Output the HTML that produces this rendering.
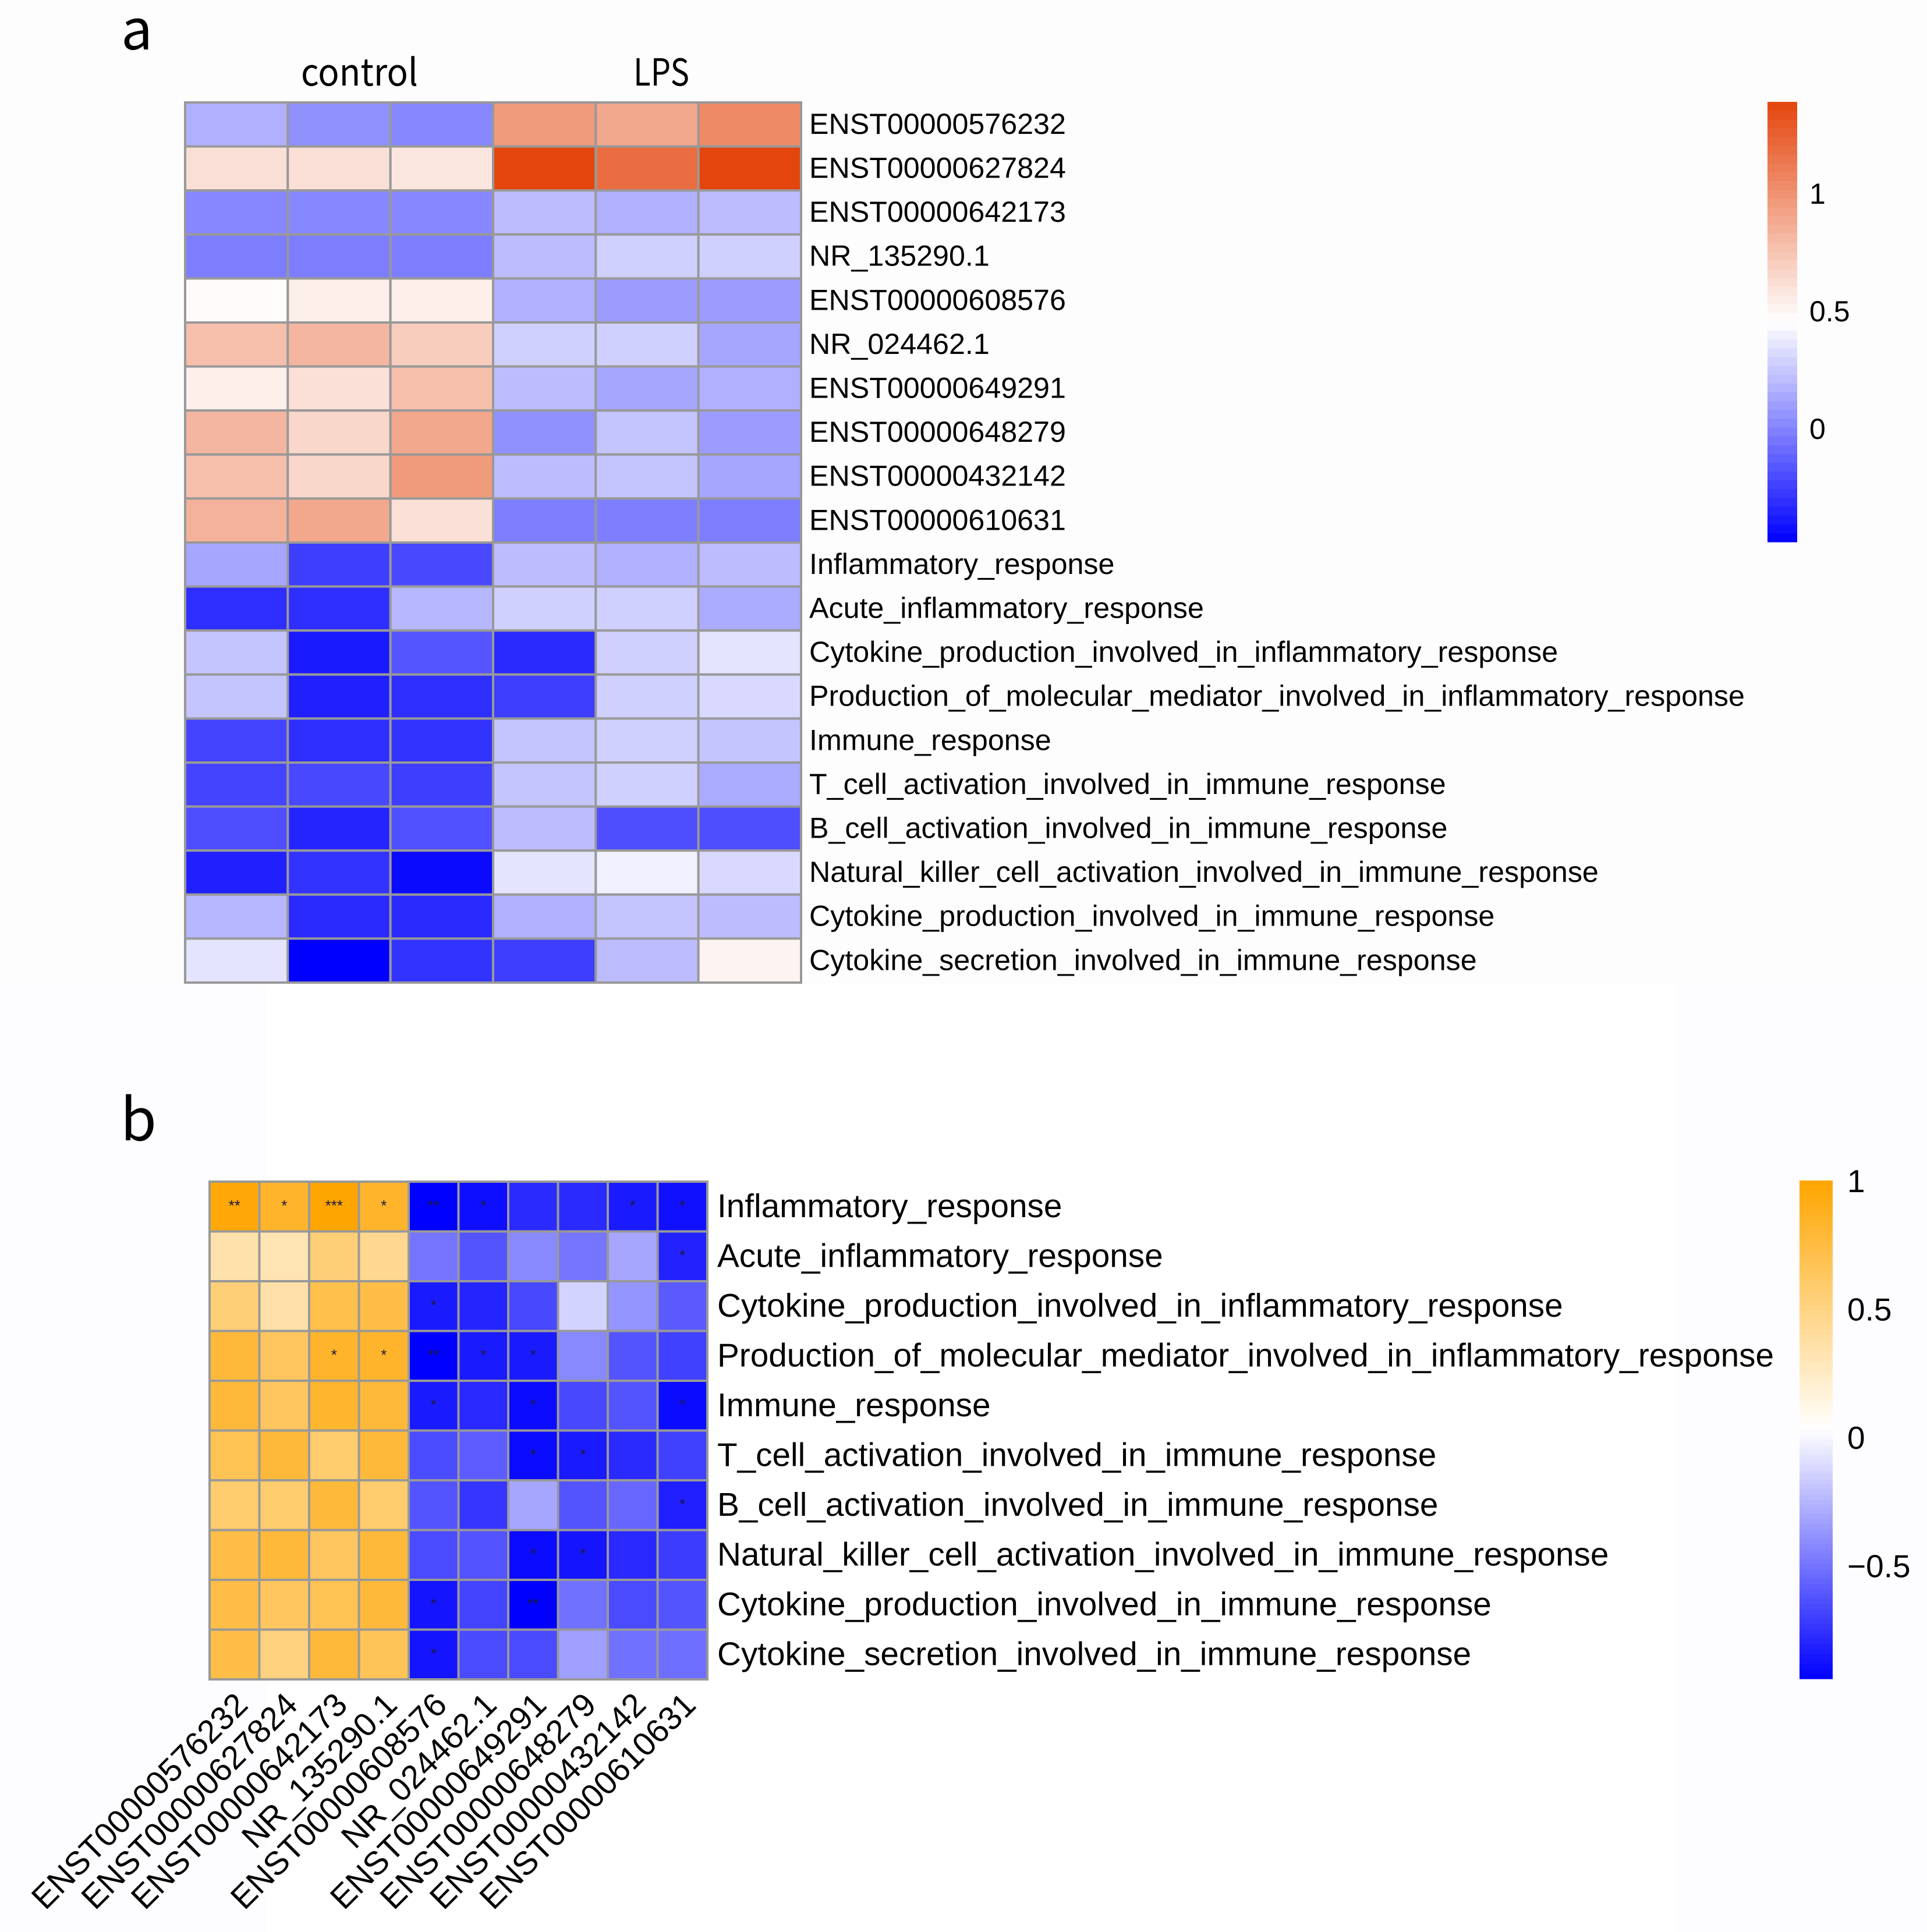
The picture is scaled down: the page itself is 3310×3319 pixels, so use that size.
<!DOCTYPE html>
<html lang="en">
<head>
<meta charset="utf-8">
<title>Heatmaps of lncRNA expression and immune response correlation</title>
<style>
html,body{margin:0;padding:0;background:#fdfdfe;width:3310px;height:3319px;overflow:hidden}
svg{display:block}
text{font-family:"Liberation Sans",Arial,sans-serif;fill:#000}
.serifless{font-family:"Noto Sans CJK SC","Liberation Sans",sans-serif}
</style>
</head>
<body>
<svg id="figure" xmlns="http://www.w3.org/2000/svg" width="3310" height="3319" viewBox="0 0 3310 3319">
  <rect x="0" y="0" width="3310" height="1690" fill="#fdfdfe"/>
  <rect x="0" y="1690" width="458" height="1629" fill="#fdfdff"/>
  <rect x="458" y="1690" width="2420" height="1629" fill="#ffffff"/>
  <rect x="2878" y="1690" width="432" height="1629" fill="#fdfdff"/>
  <text class="serifless" x="208" y="85" font-size="96">a</text>
  <text class="serifless" x="207" y="1959" font-size="100">b</text>
  <text class="serifless" x="517" y="147" font-size="64" textLength="201" lengthAdjust="spacingAndGlyphs">control</text>
  <text class="serifless" x="1088" y="147" font-size="64" textLength="96" lengthAdjust="spacingAndGlyphs">LPS</text>
  <g id="panel-a"></g>
  <g id="legend-a"></g>
  <g id="panel-b"></g>
  <g id="legend-b"></g>
</svg>
<script>
const rowLabelsA = ["ENST00000576232","ENST00000627824","ENST00000642173","NR_135290.1","ENST00000608576","NR_024462.1","ENST00000649291","ENST00000648279","ENST00000432142","ENST00000610631","Inflammatory_response","Acute_inflammatory_response","Cytokine_production_involved_in_inflammatory_response","Production_of_molecular_mediator_involved_in_inflammatory_response","Immune_response","T_cell_activation_involved_in_immune_response","B_cell_activation_involved_in_immune_response","Natural_killer_cell_activation_involved_in_immune_response","Cytokine_production_involved_in_immune_response","Cytokine_secretion_involved_in_immune_response"];
const valuesA = [
[0.163,0.046,0.013,0.958,0.893,1.043],
[0.612,0.612,0.578,1.389,1.188,1.389],
[0.013,0.013,0.013,0.207,0.163,0.207],
[-0.024,-0.024,-0.024,0.207,0.281,0.281],
[0.468,0.533,0.533,0.163,0.09,0.09],
[0.775,0.82,0.705,0.281,0.281,0.126],
[0.533,0.61,0.775,0.207,0.126,0.163],
[0.82,0.654,0.893,0.046,0.237,0.09],
[0.775,0.654,0.958,0.207,0.237,0.126],
[0.84,0.893,0.61,-0.024,-0.024,-0.024],
[0.126,-0.255,-0.22,0.207,0.163,0.207],
[-0.314,-0.314,0.19,0.281,0.281,0.145],
[0.237,-0.389,-0.17,-0.33,0.281,0.354],
[0.237,-0.365,-0.314,-0.255,0.281,0.313],
[-0.235,-0.314,-0.296,0.237,0.281,0.237],
[-0.235,-0.22,-0.255,0.237,0.281,0.145],
[-0.196,-0.35,-0.19,0.207,-0.196,-0.196],
[-0.365,-0.296,-0.446,0.354,0.402,0.313],
[0.19,-0.33,-0.33,0.163,0.237,0.207],
[0.354,-0.483,-0.296,-0.255,0.207,0.509]
];
const legendATicks = [1,0.5,0];
const legendATickLabels = ["1","0.5","0"];
const rowLabelsB = ["Inflammatory_response","Acute_inflammatory_response","Cytokine_production_involved_in_inflammatory_response","Production_of_molecular_mediator_involved_in_inflammatory_response","Immune_response","T_cell_activation_involved_in_immune_response","B_cell_activation_involved_in_immune_response","Natural_killer_cell_activation_involved_in_immune_response","Cytokine_production_involved_in_immune_response","Cytokine_secretion_involved_in_immune_response"];
const colLabelsB = ["ENST00000576232","ENST00000627824","ENST00000642173","NR_135290.1","ENST00000608576","NR_024462.1","ENST00000649291","ENST00000648279","ENST00000432142","ENST00000610631"];
const valuesB = [
[0.97,0.835,1.0,0.835,-0.94,-0.89,-0.78,-0.78,-0.843,-0.88],
[0.35,0.32,0.545,0.457,-0.494,-0.62,-0.423,-0.494,-0.31,-0.81],
[0.545,0.36,0.71,0.73,-0.843,-0.804,-0.668,-0.138,-0.373,-0.598],
[0.78,0.64,0.835,0.835,-0.94,-0.843,-0.843,-0.423,-0.62,-0.697],
[0.78,0.64,0.82,0.78,-0.843,-0.788,-0.9,-0.668,-0.62,-0.9],
[0.68,0.78,0.58,0.78,-0.66,-0.59,-0.9,-0.843,-0.78,-0.697],
[0.58,0.58,0.78,0.58,-0.62,-0.737,-0.31,-0.62,-0.55,-0.823],
[0.73,0.78,0.64,0.78,-0.66,-0.625,-0.9,-0.865,-0.788,-0.71],
[0.73,0.64,0.68,0.78,-0.865,-0.68,-0.94,-0.51,-0.66,-0.62],
[0.73,0.515,0.78,0.67,-0.865,-0.66,-0.66,-0.335,-0.51,-0.52]
];
const starsB = [
["**","*","***","*","**","*","","","*","*"],
["","","","","","","","","","*"],
["","","","","*","","","","",""],
["","","*","*","**","*","*","","",""],
["","","","","*","","*","","","*"],
["","","","","","","*","*","",""],
["","","","","","","","","","*"],
["","","","","","","*","*","",""],
["","","","","*","","**","","",""],
["","","","","*","","","","",""]
];
const legendBTicks = [1,0.5,0,-0.5];
const legendBTickLabels = ["1","0.5","0","\u22120.5"];

const SVGNS = "http://www.w3.org/2000/svg";
const GRID = "#999999";

function slug(s){ return s.toLowerCase().replace(/[^a-z0-9]+/g,'-'); }
function hex(n){ return Math.max(0,Math.min(255,Math.round(n))); }
function rampColor(v,min,max,low,high){
  const mid=(min+max)/2;
  const c = v<mid ? low : high;
  const t = v<mid ? (mid-v)/(mid-min) : (v-mid)/(max-mid);
  const k = Math.max(0,Math.min(1,t));
  return 'rgb('+hex(255+(c[0]-255)*k)+','+hex(255+(c[1]-255)*k)+','+hex(255+(c[2]-255)*k)+')';
}
function place(el,attrs){ for(const k in attrs){ el.setAttribute(k,attrs[k]); } return el; }

function drawHeatmap(cfg){
  const host=document.getElementById(cfg.host);
  const nR=cfg.values.length, nC=cfg.values[0].length;
  const xScale=i=>cfg.left+i*(cfg.right-cfg.left)/nC;
  const yScale=i=>cfg.top+i*(cfg.bottom-cfg.top)/nR;
  cfg.values.forEach((row,r)=>{
    row.forEach((v,c)=>{
      const cell=document.createElementNS(SVGNS,'rect');
      
      
      place(cell,{x:xScale(c),y:yScale(r),width:xScale(c+1)-xScale(c),height:yScale(r+1)-yScale(r),fill:rampColor(v,cfg.min,cfg.max,cfg.low,cfg.high),stroke:GRID,'stroke-width':cfg.gridWidth});
      host.appendChild(cell);
    });
  });
  cfg.rowLabels.forEach((label,r)=>{
    const t=document.createElementNS(SVGNS,'text');
    
    
    place(t,{x:cfg.labelX,y:(yScale(r)+yScale(r+1))/2+cfg.fontSize*0.36-2,'font-size':cfg.fontSize});
    t.textContent=label;
    host.appendChild(t);
  });
  if(cfg.stars){
    cfg.stars.forEach((row,r)=>{
      row.forEach((s,c)=>{
        if(!s) return;
        const t=document.createElementNS(SVGNS,'text');
        
        
        place(t,{x:(xScale(c)+xScale(c+1))/2,y:(yScale(r)+yScale(r+1))/2+7,'font-size':26,'text-anchor':'middle',style:'fill:#1a1a40'});
        t.textContent=s;
        host.appendChild(t);
      });
    });
  }
  if(cfg.colLabels){
    cfg.colLabels.forEach((label,c)=>{
      const ax=(xScale(c)+xScale(c+1))/2+26, ay=cfg.bottom+47;
      const t=document.createElementNS(SVGNS,'text');
      
      
      place(t,{x:ax,y:ay,'font-size':cfg.colFontSize,'text-anchor':'end',transform:'rotate(-45 '+ax+' '+ay+')'});
      t.textContent=label;
      host.appendChild(t);
    });
  }
}

function drawLegend(cfg){
  const host=document.getElementById(cfg.host);
  const yScale=v=>cfg.top+(cfg.max-v)/(cfg.max-cfg.min)*(cfg.bottom-cfg.top);
  for(let i=0;i<cfg.bands;i++){
    const hiV=cfg.max-i*(cfg.max-cfg.min)/cfg.bands;
    const loV=cfg.max-(i+1)*(cfg.max-cfg.min)/cfg.bands;
    const band=document.createElementNS(SVGNS,'rect');
    
    
    place(band,{x:cfg.left,y:yScale(hiV),width:cfg.right-cfg.left,height:yScale(loV)-yScale(hiV)+0.6,fill:rampColor((hiV+loV)/2,cfg.min,cfg.max,cfg.low,cfg.high)});
    host.appendChild(band);
  }
  cfg.ticks.forEach((v,i)=>{
    const t=document.createElementNS(SVGNS,'text');
    
    
    place(t,{x:cfg.labelX,y:yScale(v)+cfg.fontSize*0.36,'font-size':cfg.fontSize});
    t.textContent=cfg.labels[i];
    host.appendChild(t);
  });
}

const lowA=[0,0,255], highA=[228,69,13];
const lowB=[0,0,255], highB=[255,165,0];

drawHeatmap({host:'panel-a',prefix:'a',values:valuesA,rowLabels:rowLabelsA,left:318,right:1376,top:176,bottom:1688,min:-0.483,max:1.389,low:lowA,high:highA,gridWidth:4,labelX:1390,fontSize:50.2});
drawLegend({host:'legend-a',top:175,bottom:931,left:3036,right:3087,min:-0.483,max:1.389,low:lowA,high:highA,bands:50,ticks:legendATicks,labels:legendATickLabels,labelX:3108,fontSize:50});
drawHeatmap({host:'panel-b',prefix:'b',values:valuesB,rowLabels:rowLabelsB,colLabels:colLabelsB,stars:starsB,left:360,right:1215,top:2030,bottom:2885,min:-0.94,max:1,low:lowB,high:highB,gridWidth:4,labelX:1232,fontSize:56.7,colFontSize:56.5});
drawLegend({host:'legend-b',top:2028,bottom:2884,left:3091,right:3148,min:-0.94,max:1,low:lowB,high:highB,bands:100,ticks:legendBTicks,labels:legendBTickLabels,labelX:3173,fontSize:55});
</script>
</body>
</html>
